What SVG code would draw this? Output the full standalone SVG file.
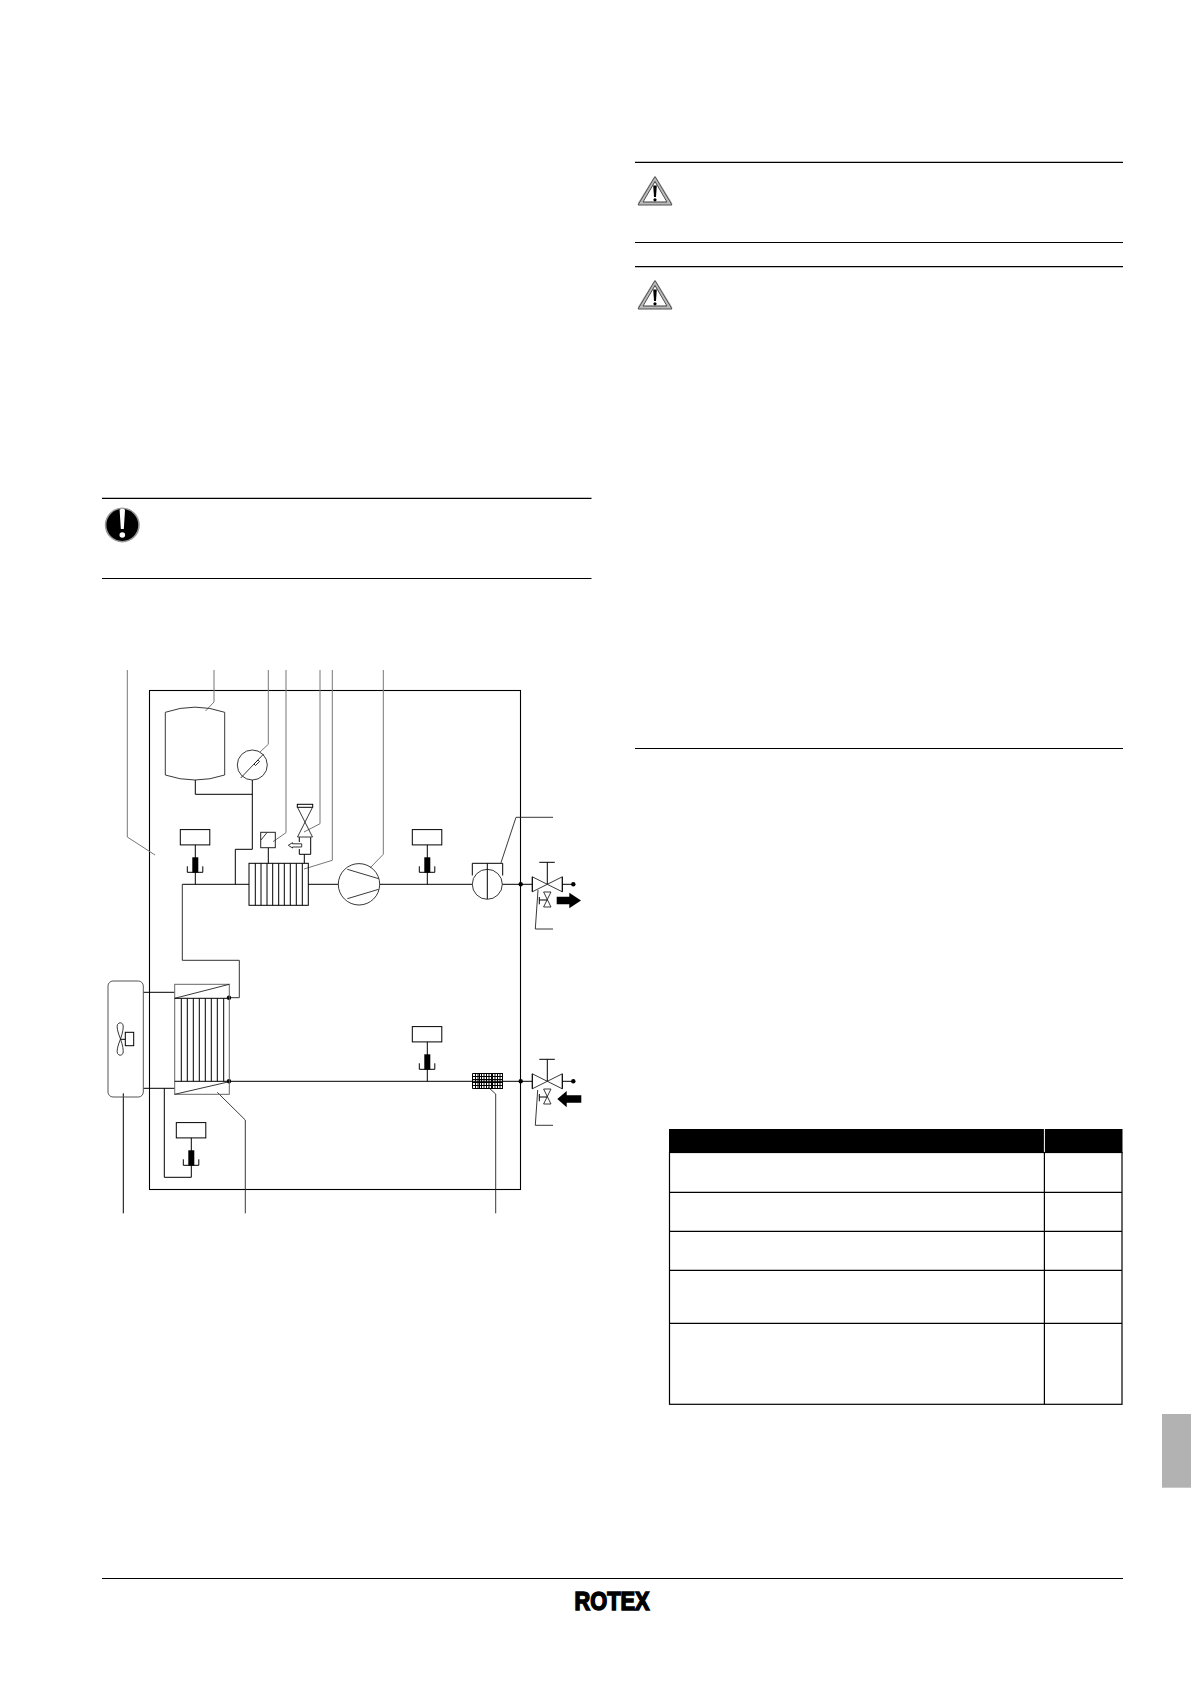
<svg xmlns="http://www.w3.org/2000/svg" width="1191" height="1685" viewBox="0 0 1191 1685">
<style>
.r{stroke:#000;stroke-width:1.2;fill:none}
.p{stroke:#000;stroke-width:1;fill:none}
.t{stroke:#222;stroke-width:.9;fill:none}
.l{stroke:#777;stroke-width:1;fill:none}
.l2{stroke:#222;stroke-width:.9;fill:none}
.g{stroke:#333;stroke-width:1;fill:none}
.k{fill:#000}
.w{fill:#fff}
</style>
<defs>
<g id="sensor"><rect class="p" x="-15" y="-54.7" width="29.5" height="15.3"/><path class="p" d="M0-39.4V0"/><rect class="k" x="-3" y="-27" width="6" height="15.3"/><path class="p" d="M-8-18V-12H7.5V-18"/></g>
<g id="valve"><path class="t" d="M-15-7.5V7.5L0 0ZM15-7.5V7.5L0 0Z"/><path class="p" d="M-15-7.5V7.5M15-7.5V7.5"/><path class="p" d="M0 0V-22M-8-22H7.5"/><path class="t" d="M-3.7 7.7H3.7L-3.7 22.7H3.7Z"/><path class="p" d="M-8 12.7V20M-8 15.7H0"/><path class="p" d="M15 0H26"/><circle class="k" cx="26" cy="0" r="2.2"/></g>
<g id="warn"><path fill="#fff" stroke="#bbb" stroke-width="3.4" stroke-linejoin="round" d="M17 3L32.5 28H1.5Z"/><path fill="none" stroke="#222" stroke-width=".7" d="M17 1L34 29.5H0Z"/><path fill="none" stroke="#222" stroke-width=".8" d="M17 6L29 26.5H5Z"/><path class="k" d="M15.2 10H18.8L18 21.5H16Z"/><circle class="k" cx="17" cy="24.3" r="1.6"/></g>
</defs>
<rect width="1191" height="1685" fill="#fff"/>

<g id="page-rules">
<path class="r" d="M102 498.3H591.5M102 578.5H591.5M635 162.3H1123M635 242.5H1123M635 266.7H1123M635 748.5H1123M102 1578.5H1123"/>
</g>
<g id="notice-icon"><circle cx="122.3" cy="525" r="16.7" fill="#000" stroke="#999" stroke-width="1.6"/><path class="w" d="M119.6 509.8Q122.3 507.5 125 509.8L123.8 529H120.8Z"/><circle class="w" cx="122.3" cy="535" r="2.8"/></g>
<use id="warning-icon-1" href="#warn" x="638" y="175.5"/>
<use id="warning-icon-2" href="#warn" x="638" y="279.5"/>

<g id="table">
<rect class="k" x="669" y="1129" width="453.5" height="24"/>
<path stroke="#fff" stroke-width="1" d="M1044.4 1129V1153"/>
<rect x="669.5" y="1152.5" width="452.5" height="251.8" fill="none" stroke="#000" stroke-width="1.2"/>
<path class="r" d="M669 1192.3H1122M669 1231.3H1122M669 1270.3H1122M669 1323.3H1122M1044.4 1153V1404"/>
</g>
<rect id="side-tab" x="1162" y="1414" width="29" height="73.7" fill="#b2b2b2"/>
<g id="logo"><text x="574.5" y="1610.3" font-family="'Liberation Sans',sans-serif" font-weight="700" font-size="25" textLength="75" lengthAdjust="spacingAndGlyphs" stroke="#000" stroke-width="1.5" fill="#000">ROTEX</text></g>

<g id="enclosure"><rect x="149.5" y="690.5" width="371" height="499" fill="none" stroke="#000" stroke-width="1.1"/></g>

<g id="connectors">
<path class="p" d="M195.3 780V794.3H252.3M252.3 780V849.3H235.3V884.3M182.3 884.3H249M308.3 884.3H338.3M379.7 884.3H472.3M502.3 884.3H532.3"/>
<path class="g" d="M182.3 884.3V960.3H239.3V997.7H229"/>
<path class="p" d="M268.3 847.7V863.3M304.3 854.3V863.3"/>
<path class="p" d="M143.3 992.3H174.7M143.3 1088.3H174.7M164.3 1088.3V1177.3H191.3M229 1081.3H532.3"/>
<circle class="k" cx="229" cy="997.7" r="2.2"/><circle class="k" cx="229" cy="1081.3" r="2.2"/>
<circle class="k" cx="520.7" cy="884.3" r="2.2"/><circle class="k" cx="520.7" cy="1081.3" r="2.2"/>
</g>

<g id="leaders">
<path class="l" d="M127.3 670V837L155 855M214 670V702L205.5 711M268.3 670V744.3L260 752M286 670V832.7L273 841.7M320 670V823.7L304 832M332.3 670V860.3L304 869M383.3 670V854.3L370 868"/>
<path class="l2" d="M501 862.7L516 817.3H553M538 890L535.3 929H553M537.7 1090L535.3 1125.3H553M488.3 1087.3L495.7 1094V1213.3M217.3 1092.3L245.3 1120V1213.3"/>
<path class="p" d="M123.3 1093.3V1213.3"/>
</g>

<g id="tank"><path class="t" d="M165.3 712.3Q195 702 224.7 712.3V775Q195 785 165.3 775Z"/></g>
<g id="gauge"><circle class="t" cx="252.3" cy="765" r="15"/><path class="t" d="M240.7 778L263.6 754"/><path fill="#fff" stroke="#000" stroke-width=".8" d="M254 764L258 760L259.5 761.5L255.5 765.5Z"/></g>
<use id="sensor-1" href="#sensor" x="195.3" y="884.3"/>
<use id="sensor-2" href="#sensor" x="427.3" y="884.3"/>
<use id="sensor-3" href="#sensor" x="427.3" y="1081.3"/>
<use id="sensor-4" href="#sensor" x="191.3" y="1177.3"/>
<g id="pressure-switch"><rect x="260.7" y="832.3" width="14.6" height="15.4" fill="none" stroke="#222" stroke-width="1"/><path class="t" d="M261 840L267 832.5"/></g>
<g id="relief-valve">
<rect class="p" x="297.3" y="804.3" width="15.4" height="3"/>
<path class="t" d="M297.5 807.3L312.5 837H297.5L312.5 807.3"/>
<path class="p" d="M299.3 837.3V842M299.3 849V854.3H310.7V837.3"/>
<path class="t" d="M288.3 845.3L292.5 842.7V843.8H301.7V847H292.5V848Z"/>
</g>
<g id="condenser">
<rect class="p" x="249" y="863.3" width="59.3" height="42"/>
<path class="p" d="M255.3 863.3V905.3M261 863.3V905.3M267 863.3V905.3M272.7 863.3V905.3M278.7 863.3V905.3M284.3 863.3V905.3M290.3 863.3V905.3M296.3 863.3V905.3M302.3 863.3V905.3"/>
</g>
<g id="compressor"><circle class="t" cx="359" cy="884.3" r="20.7"/><path class="t" d="M347.3 869.3L378.7 878.7M347.3 898.7L378.7 889.3"/></g>
<g id="accumulator"><circle class="t" cx="487.3" cy="884.3" r="15"/><path class="p" d="M487.3 863.3V899M472.3 875.5V863.3H502.7V875.5"/></g>
<use id="valve-top" href="#valve" x="547.3" y="884.3"/>
<use id="valve-bottom" href="#valve" x="547.3" y="1081.3"/>
<path id="arrow-out" class="k" d="M556.7 896.7H569.3V892.7L581 900.4L569.3 908.3V904.3H556.7Z"/>
<path id="arrow-in" class="k" d="M581.3 1095.3H566.7V1091L557.3 1099L566.7 1107.3V1102.7H581.3Z"/>
<g id="fan-unit">
<rect x="108" y="981" width="35.3" height="116" rx="5" fill="none" stroke="#555" stroke-width="1"/>
<rect class="p" x="125.3" y="1032.3" width="8.4" height="13.4"/>
<path class="p" d="M120 1039.3H125.3"/>
<path class="t" d="M120.5 1039Q116 1028 117.5 1024.5Q120 1021 123 1024.5Q124 1029 120.5 1039Q116 1050 117.5 1053.5Q120 1057 123 1053.5Q124 1049 120.5 1039Z"/>
</g>
<g id="evaporator">
<rect x="174.7" y="984.3" width="54.6" height="110" fill="none" stroke="#666" stroke-width="1"/>
<path class="t" d="M174.7 998.3L229.3 984.3M174.7 1094.3L229.3 1081.7"/>
<path class="p" d="M174.7 998.3H229M174.7 1081.3H229M181.3 998.3V1081.3M187.3 998.3V1081.3M193.3 998.3V1081.3M199.3 998.3V1081.3M205.3 998.3V1081.3M211.3 998.3V1081.3M217.3 998.3V1081.3M223.7 998.3V1081.3"/>
</g>
<g id="filter">
<path class="p" d="M472.5 1073.5H503M472.5 1076.5H503M472.5 1079.5H503M472.5 1082.5H503M472.5 1085.5H503M472.5 1088.5H503M472.5 1073.5V1088.5M475.5 1073.5V1088.5M478 1073.5V1088.5M479.5 1073.5V1088.5M481.5 1073.5V1088.5M484 1073.5V1088.5M486.5 1073.5V1088.5M489 1073.5V1088.5M491.5 1073.5V1088.5M492.5 1073.5V1088.5M495 1073.5V1088.5M497.5 1073.5V1088.5M500 1073.5V1088.5M502.5 1073.5V1088.5"/>
</g>
</svg>
